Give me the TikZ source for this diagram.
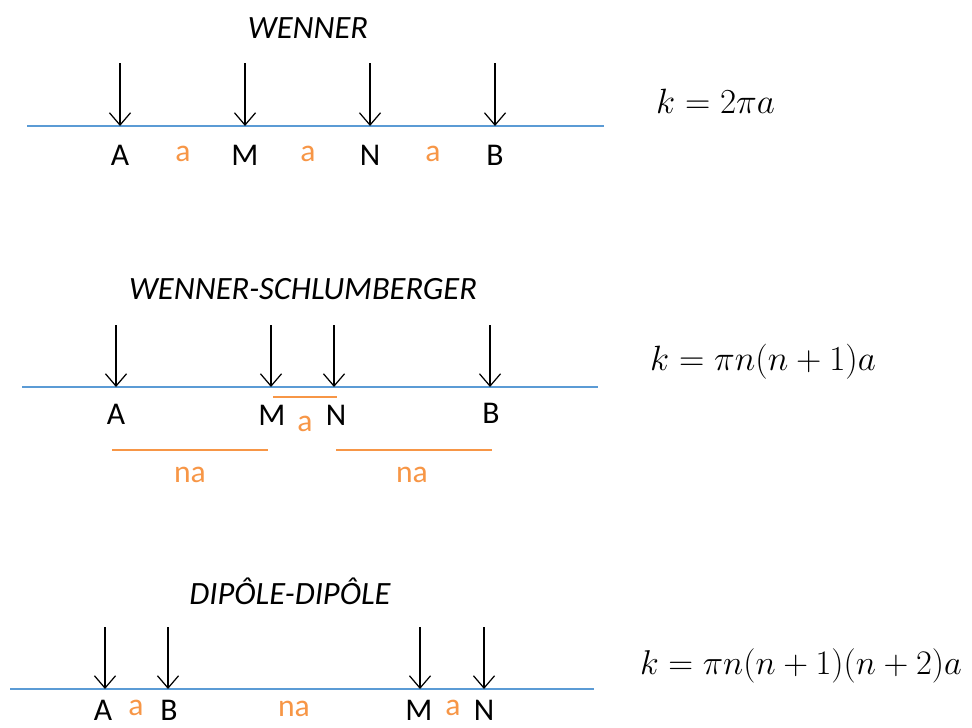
\RequirePackage{fix-cm}
\documentclass[tikz,border=0pt]{standalone}
\usepackage[no-math]{fontspec}
\setmainfont{Carlito}
\usetikzlibrary{arrows.meta}
\definecolor{groundblue}{HTML}{5B9BD5}
\definecolor{spacing}{HTML}{F79646}
\tikzset{
  ground/.style={groundblue,line width=1.2pt},
  probe/.style={-{Straight Barb[length=7pt,width=12pt]},line width=0.7pt},
  elec/.style={font=\fontsize{18}{21}\selectfont},
  dist/.style={spacing,font=\fontsize{18}{21}\selectfont},
  distline/.style={spacing,line width=0.9pt},
  title/.style={font=\fontsize{18.5}{22}\selectfont\itshape},
  factor/.style={font=\fontsize{20}{24}\selectfont,anchor=west}
}
\begin{document}
\begin{tikzpicture}[x=0.02cm,y=-0.02cm]
\useasboundingbox (0,0) rectangle (972,727);

% Wenner
\coordinate (w0) at (27,126);
\coordinate (w1) at (604,126);
\coordinate (wA) at (120,126);
\coordinate (wM) at (245,126);
\coordinate (wN) at (370,126);
\coordinate (wB) at (495,126);
\coordinate (wAt) at (120,63);
\coordinate (wMt) at (245,63);
\coordinate (wNt) at (370,63);
\coordinate (wBt) at (495,63);

\draw[ground] (w0)--(w1);
\draw[probe] (wAt)--(wA);
\draw[probe] (wMt)--(wM);
\draw[probe] (wNt)--(wN);
\draw[probe] (wBt)--(wB);

\node[title] (wtitle) at (308,28) {WENNER};
\node[elec] (wlA) at (120,155) {A};
\node[elec] (wlM) at (245,155) {M};
\node[elec] (wlN) at (370,155) {N};
\node[elec] (wlB) at (495,155) {B};
\node[dist] (wa1) at (183,154) {a};
\node[dist] (wa2) at (308,154) {a};
\node[dist] (wa3) at (433,154) {a};
\node[factor] (wk) at (650,101) {$k=2\pi a$};

% Wenner-Schlumberger
\coordinate (s0) at (22,387);
\coordinate (s1) at (598,387);
\coordinate (sA) at (116,387);
\coordinate (sM) at (271,387);
\coordinate (sN) at (334,387);
\coordinate (sB) at (490,387);
\coordinate (sAt) at (116,325);
\coordinate (sMt) at (271,325);
\coordinate (sNt) at (334,325);
\coordinate (sBt) at (490,325);

\draw[ground] (s0)--(s1);
\draw[probe] (sAt)--(sA);
\draw[probe] (sMt)--(sM);
\draw[probe] (sNt)--(sN);
\draw[probe] (sBt)--(sB);

\node[title] (stitle) at (303,289) {WENNER-SCHLUMBERGER};
\node[elec] (slA) at (116,414) {A};
\node[elec] (slM) at (272,415) {M};
\node[elec] (slN) at (336,415) {N};
\node[elec] (slB) at (491,413) {B};

\coordinate (sa0) at (273,397);
\coordinate (sa1) at (337,397);
\coordinate (sn0) at (112,450);
\coordinate (sn1) at (268,450);
\coordinate (sn2) at (336,450);
\coordinate (sn3) at (492,450);
\draw[distline] (sa0)--(sa1);
\draw[distline] (sn0)--(sn1);
\draw[distline] (sn2)--(sn3);
\node[dist] (sa) at (305,424) {a};
\node[dist] (sna1) at (190,475) {na};
\node[dist] (sna2) at (412,475) {na};
\node[factor] (sk) at (644,362) {$k=\pi n(n+1)a$};

% Dipole-dipole
\coordinate (d0) at (10,689);
\coordinate (d1) at (594,689);
\coordinate (dA) at (105,689);
\coordinate (dB) at (168,689);
\coordinate (dM) at (420,689);
\coordinate (dN) at (484,689);
\coordinate (dAt) at (105,627);
\coordinate (dBt) at (168,627);
\coordinate (dMt) at (420,627);
\coordinate (dNt) at (484,627);

\draw[ground] (d0)--(d1);
\draw[probe] (dAt)--(dA);
\draw[probe] (dBt)--(dB);
\draw[probe] (dMt)--(dM);
\draw[probe] (dNt)--(dN);

\node[title] (dtitle) at (290,591) {DIPÔLE-DIPÔLE};
\node[elec] (dlA) at (103,710) {A};
\node[dist] (da1) at (136,708) {a};
\node[elec] (dlB) at (169,710) {B};
\node[dist] (dna) at (294,709) {na};
\node[elec] (dlM) at (419,710) {M};
\node[dist] (da2) at (453,708) {a};
\node[elec] (dlN) at (484,710) {N};
\node[factor,font=\fontsize{19.6}{23}\selectfont] (dk) at (634,666) {$k=\pi n(n+1)(n+2)a$};
\end{tikzpicture}
\end{document}
